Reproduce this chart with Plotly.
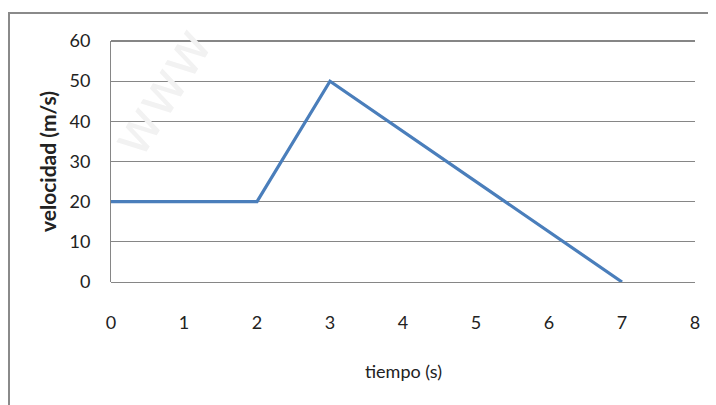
import plotly.graph_objects as go

tiempo = [0, 2, 3, 7]
velocidad = [20, 20, 50, 0]
x_ticks = [0, 1, 2, 3, 4, 5, 6, 7, 8]
y_ticks = [0, 10, 20, 30, 40, 50, 60]
x_title = "tiempo (s)"
y_title = "velocidad (m/s)"

# page offset (body margin of the html page)
O = 8
W, H = 716, 405
L, T = 111 - O, 41 - O
R = W - (695 - O)
B = H - (282 - O)
pw, ph = W - L - R, H - T - B

def px(xp):
    return (xp - O - L) / pw

def py(yp):
    return (H - B - (yp - O)) / ph

font = "Lato, Open Sans, sans-serif"

fig = go.Figure()
fig.add_trace(go.Scatter(x=tiempo, y=velocidad, mode="lines",
                         line=dict(color="#4a7ebb", width=3.2), showlegend=False,
                         cliponaxis=False))

fig.update_layout(
    width=W, height=H,
    margin=dict(l=L, r=R, t=T, b=B, autoexpand=False),
    paper_bgcolor="white", plot_bgcolor="white",
    font=dict(family=font, size=18, color="#222"),
    xaxis=dict(range=[0, 8], tickvals=x_ticks, showgrid=False, zeroline=False,
               showline=False, ticks="", ticklabelstandoff=28, automargin=False),
    yaxis=dict(range=[0, 60], tickvals=y_ticks, showgrid=True, gridcolor="#868686",
               gridwidth=1, zeroline=True, zerolinecolor="#868686", zerolinewidth=1,
               showline=True, linecolor="#868686", linewidth=1, ticks="",
               ticklabelstandoff=16, automargin=False),
    shapes=[
        dict(type="rect", xref="paper", yref="paper",
             x0=px(9), x1=px(740), y0=py(430), y1=py(13),
             line=dict(color="#8a8a8a", width=2), layer="below"),
        dict(type="line", xref="paper", yref="paper",
             x0=0, x1=1, y0=1, y1=1, line=dict(color="#868686", width=2)),
    ],
    annotations=[
        dict(text="www", xref="paper", yref="paper", x=px(160), y=py(92),
             xanchor="center", yanchor="middle",
             showarrow=False, textangle=-58,
             font=dict(size=56, color="#f2f2f2", family="DejaVu Sans")),
        dict(text=x_title, xref="paper", yref="paper", x=px(403), y=py(371),
             xanchor="center", yanchor="middle", showarrow=False,
             font=dict(size=18, color="#222", family=font)),
        dict(text="<b>" + y_title + "</b>", xref="paper", yref="paper", x=px(47), y=py(162),
             xanchor="center", yanchor="middle", showarrow=False, textangle=-90,
             font=dict(size=21, color="#222", family=font)),
    ],
)

fig.write_html("out.html")
